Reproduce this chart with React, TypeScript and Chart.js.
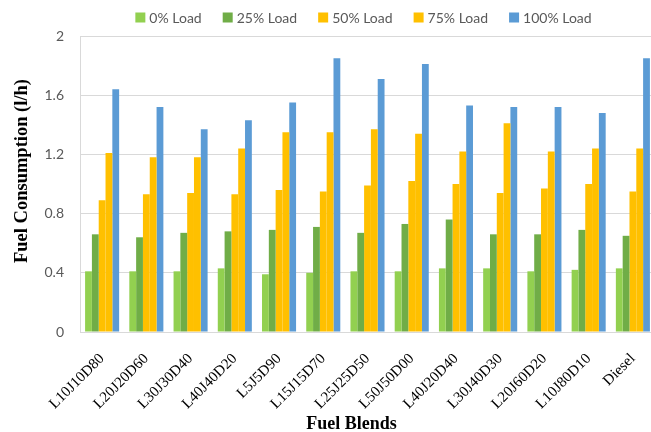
import React, { useEffect, useRef } from "react";
import { Chart, registerables } from "chart.js";

Chart.register(...registerables);

// Fuel blends tested, and measured fuel consumption (l/h) at each engine load
const blends = [
  "L10J10D80",
  "L20J20D60",
  "L30J30D40",
  "L40J40D20",
  "L5J5D90",
  "L15J15D70",
  "L25J25D50",
  "L50J50D00",
  "L40J20D40",
  "L30J40D30",
  "L20J60D20",
  "L10J80D10",
  "Diesel",
];
const load0 = [0.41, 0.41, 0.41, 0.43, 0.39, 0.4, 0.41, 0.41, 0.43, 0.43, 0.41, 0.42, 0.43];
const load25 = [0.66, 0.64, 0.67, 0.68, 0.69, 0.71, 0.67, 0.73, 0.76, 0.66, 0.66, 0.69, 0.65];
const load50 = [0.89, 0.93, 0.94, 0.93, 0.96, 0.95, 0.99, 1.02, 1.0, 0.94, 0.97, 1.0, 0.95];
const load75 = [1.21, 1.18, 1.18, 1.24, 1.35, 1.35, 1.37, 1.34, 1.22, 1.41, 1.22, 1.24, 1.24];
const load100 = [1.64, 1.52, 1.37, 1.43, 1.55, 1.85, 1.71, 1.81, 1.53, 1.52, 1.52, 1.48, 1.85];

const seriesLabels = ["0% Load", "25% Load", "50% Load", "75% Load", "100% Load"];
const seriesColors = ["#92D050", "#70AD47", "#FFC000", "#FFC000", "#5B9BD5"];
const yTickLabels = ["0", "0.4", "0.8", "1.2", "1.6", "2"];

const xTitle = "Fuel Blends";
const yTitle = "Fuel Consumption (l/h)";

// Legend row and axis titles drawn on the canvas
const decorations = {
  id: "decorations",
  afterDraw(chart: any) {
    const { ctx, chartArea } = chart;
    ctx.save();

    // legend
    ctx.font = "14px Lato";
    ctx.textBaseline = "middle";
    ctx.textAlign = "left";
    const box = 10;
    const textGap = 4;
    const itemGap = 21;
    const items = chart.data.datasets.map((ds: any) => ({
      text: ds.label as string,
      color: ds.backgroundColor as string,
      w: ctx.measureText(ds.label).width,
    }));
    const total =
      items.reduce((s: number, it: any) => s + box + textGap + it.w, 0) + itemGap * (items.length - 1);
    let x = (chartArea.left + chartArea.right) / 2 - 4 - total / 2;
    const ly = 17.5;
    for (const it of items) {
      ctx.fillStyle = it.color;
      ctx.fillRect(x, ly - box / 2, box, box);
      ctx.fillStyle = "#595959";
      ctx.fillText(it.text, x + box + textGap, ly + 0.5);
      x += box + textGap + it.w + itemGap;
    }

    // axis titles
    ctx.fillStyle = "#000";
    ctx.font = "bold 18px 'Liberation Serif'";
    ctx.textAlign = "center";
    ctx.fillText(xTitle, (chartArea.left + chartArea.right) / 2 - 16, 424);

    ctx.font = "bold 18.5px 'Liberation Serif'";
    ctx.translate(22, (chartArea.top + chartArea.bottom) / 2 - 13);
    ctx.rotate(-Math.PI / 2);
    ctx.fillText(yTitle, 0, 0);
    ctx.restore();
  },
};

export default function App() {
  const canvasRef = useRef<HTMLCanvasElement | null>(null);

  useEffect(() => {
    const canvas = canvasRef.current;
    if (!canvas) return;
    const series = [load0, load25, load50, load75, load100];
    const chart = new Chart(canvas, {
      type: "bar",
      data: {
        labels: blends,
        datasets: series.map((values, i) => ({
          label: seriesLabels[i],
          data: values,
          backgroundColor: seriesColors[i],
          borderWidth: 0,
          categoryPercentage: 0.77,
          barPercentage: 1,
        })),
      },
      options: {
        responsive: false,
        animation: false,
        devicePixelRatio: 1,
        layout: { padding: { top: 36, right: 5, left: 0, bottom: 0 } },
        plugins: {
          legend: { display: false },
          tooltip: { enabled: false },
        },
        scales: {
          x: {
            grid: { display: false },
            border: { display: true, color: "#d9d9d9" },
            ticks: {
              color: "#000",
              font: { family: "'Liberation Serif'", size: 15 },
              maxRotation: 45,
              minRotation: 45,
              autoSkip: false,
              padding: 10,
            },
            afterFit: (s: any) => {
              s.height = 100;
            },
          },
          y: {
            min: 0,
            max: 2,
            ticks: {
              stepSize: 0.4,
              padding: 16,
              color: "#595959",
              font: { family: "Lato", size: 14 },
              callback: (_v: any, i: number) => yTickLabels[i],
            },
            grid: { color: "#d9d9d9", drawTicks: false },
            border: { display: true, color: "#d9d9d9" },
            afterFit: (s: any) => {
              s.width = 80;
            },
          },
        },
      },
      plugins: [decorations],
    });
    return () => chart.destroy();
  }, []);

  return (
    <div
      style={{
        position: "absolute",
        left: 0,
        top: 0,
        width: 651,
        height: 432,
        overflow: "hidden",
        background: "#fff",
      }}
    >
      <canvas ref={canvasRef} width={660} height={432} style={{ display: "block" }} />
    </div>
  );
}
